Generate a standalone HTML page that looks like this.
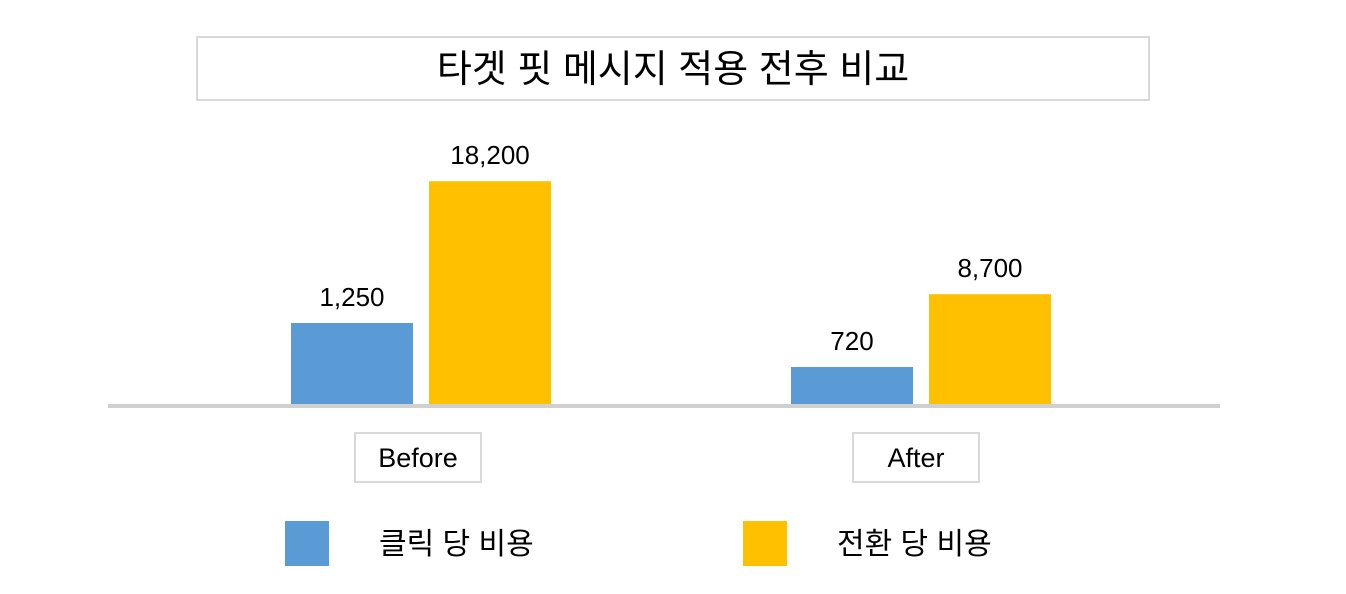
<!DOCTYPE html>
<html><head><meta charset="utf-8">
<style>
body{margin:0;width:1346px;height:594px;background:#fff;overflow:hidden;font-family:"Liberation Sans","Noto Sans CJK KR",sans-serif;}
#c{position:absolute;left:0;top:0;}
</style></head>
<body>
<svg id="c" width="1346" height="594"></svg>
<script>
const categories = ["Before", "After"];
const clickCost = [1250, 720];
const convCost = [18200, 8700];
const valueLabels = [["1,250", "18,200"], ["720", "8,700"]];
const seriesNames = ["클릭 당 비용", "전환 당 비용"];

const svg = document.getElementById('c');
const NS = 'http://www.w3.org/2000/svg';
function mk(tag, attrs, text){const e=document.createElementNS(NS,tag);for(const k in attrs)e.setAttribute(k,attrs[k]);if(text!==undefined)e.textContent=text;svg.appendChild(e);return e;}

const baseY = 406;
const yBlue = v => baseY - (v - 250) * (83/1000);
const yYel = v => baseY - (v + 700) * (113/9500);
const catX = i => 291 + i*500;
const catCenter = [418, 916];
const colors = ["#5b9bd5", "#ffc000"];

let t = mk('rect',{x:197,y:37,width:952,height:63,fill:'#fff',stroke:'#d9d9d9','stroke-width':2});
 
t = mk('text',{x:673,y:82,'font-size':38,'text-anchor':'middle',fill:'#000'},'타겟 핏 메시지 적용 전후 비교');
 

categories.forEach((c,i)=>{
  const x0 = catX(i);
  const yb = yBlue(clickCost[i]), yy = yYel(convCost[i]);
  let b = mk('rect',{x:x0,y:yb,width:122,height:baseY-yb,fill:colors[0]});
   
  b = mk('rect',{x:x0+138,y:yy,width:122,height:baseY-yy,fill:colors[1]});
   
  let l = mk('text',{x:x0+61,y:yb-17,'font-size':26,'text-anchor':'middle',fill:'#000'},valueLabels[i][0]);
   
  l = mk('text',{x:x0+199,y:yy-17,'font-size':26,'text-anchor':'middle',fill:'#000'},valueLabels[i][1]);
   
  const cx = catCenter[i];
  let bx = mk('rect',{x:cx-63,y:433,width:126,height:49,fill:'#fff',stroke:'#d9d9d9','stroke-width':2});
   
  let ct = mk('text',{x:cx,y:467,'font-size':27,'text-anchor':'middle',fill:'#000'},c);
   
});

let ax = mk('line',{x1:108,y1:406,x2:1220,y2:406,stroke:'#d0d0d0','stroke-width':4});
 

const legX = [285, 743];
seriesNames.forEach((n,i)=>{
  let s = mk('rect',{x:legX[i],y:521,width:44,height:45,fill:colors[i]});
   
  let tx = mk('text',{x:legX[i]+94,y:554,'font-size':30,fill:'#000'},n);
   
});
</script>
</body></html>
